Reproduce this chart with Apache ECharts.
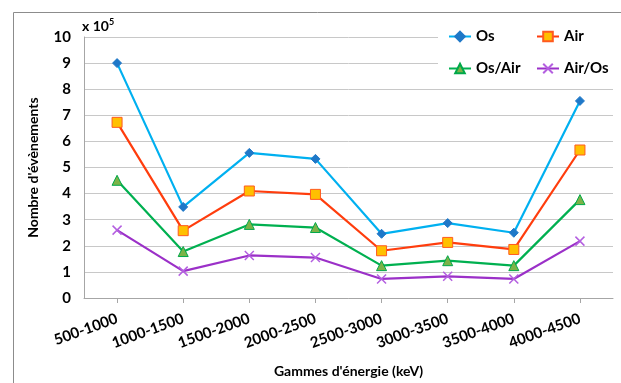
<!DOCTYPE html>
<html>
<head>
<meta charset="utf-8">
<style>
  html, body { margin: 0; padding: 0; background: #fff; }
  #chart { width: 621px; height: 383px; }
</style>
<script src="https://cdn.jsdelivr.net/npm/echarts@6/dist/echarts.min.js"></script>
</head>
<body>
<div id="chart"></div>
<script>
// Energy ranges (keV)
const categories = ['500-1000', '1000-1500', '1500-2000', '2000-2500',
                    '2500-3000', '3000-3500', '3500-4000', '4000-4500'];
// Event counts, in units of 10^5
const osValues    = [9.0, 3.49, 5.56, 5.33, 2.46, 2.87, 2.50, 7.55];
const airValues   = [6.73, 2.58, 4.10, 3.97, 1.81, 2.13, 1.86, 5.67];
const osAirValues = [4.51, 1.78, 2.82, 2.70, 1.24, 1.43, 1.24, 3.77];
const airOsValues = [2.60, 1.03, 1.63, 1.55, 0.73, 0.83, 0.73, 2.18];
const yTicks = [0, 1, 2, 3, 4, 5, 6, 7, 8, 9, 10];

const FONT = 'Lato, "Liberation Sans", sans-serif';
const crossPath = 'path://M0,0L10,10M10,0L0,10';

function lineSeries(name, data, lineColor, symbol, size, fill, border) {
  return {
    name: name,
    type: 'line',
    data: data,
    symbol: symbol,
    symbolSize: size,
    showAllSymbol: true,
    lineStyle: { color: lineColor, width: 2.2 },
    itemStyle: { color: fill, borderColor: border, borderWidth: symbol === crossPath ? 1.5 : 1 },
    emphasis: { disabled: true },
    z: 3
  };
}

const chart = echarts.init(document.getElementById('chart'), null, { renderer: 'canvas' });

const legendText = { fontFamily: FONT, fontWeight: 'bold', fontSize: 15, color: '#000' };

chart.setOption({
  animation: false,
  backgroundColor: '#fff',
  grid: { left: 84, right: 8, top: 37, bottom: 84, containLabel: false },
  xAxis: {
    type: 'category',
    data: categories,
    boundaryGap: true,
    axisLine: { lineStyle: { color: '#a6a6a6', width: 1 } },
    axisTick: { show: true, alignWithLabel: true, length: 5, lineStyle: { color: '#a6a6a6' } },
    axisLabel: {
      rotate: 20, margin: 20, interval: 0,
      fontFamily: FONT, fontWeight: 'bold', fontSize: 15, color: '#000'
    },
    name: "Gammes d'énergie (keV)",
    nameLocation: 'middle',
    nameGap: 66,
    nameTextStyle: { fontFamily: FONT, fontWeight: 'bold', fontSize: 14, color: '#000' }
  },
  yAxis: {
    type: 'value',
    min: yTicks[0],
    max: yTicks[yTicks.length - 1],
    interval: 1,
    axisLine: { show: true, lineStyle: { color: '#a6a6a6', width: 1 } },
    axisTick: { show: false },
    splitLine: { lineStyle: { color: '#c8c8c8', width: 1 } },
    axisLabel: {
      margin: 13,
      fontFamily: FONT, fontWeight: 'bold', fontSize: 15, color: '#000'
    },
    name: "Nombre d'évènements",
    nameLocation: 'middle',
    nameGap: 44,
    nameTextStyle: { fontFamily: FONT, fontWeight: 'bold', fontSize: 14, color: '#000' }
  },
  legend: [
    {
      data: ['Os', 'Os/Air'],
      orient: 'vertical',
      left: 448, top: 29,
      itemWidth: 22, itemHeight: 12, itemGap: 17,
      textStyle: legendText,
      padding: 0
    },
    {
      data: ['Air', 'Air/Os'],
      orient: 'vertical',
      left: 536, top: 29,
      itemWidth: 22, itemHeight: 12, itemGap: 17,
      textStyle: legendText,
      padding: 0
    }
  ],
  graphic: [
    {
      type: 'rect', left: 11, top: 10, z: -1, silent: true,
      shape: { width: 640, height: 400 },
      style: { fill: null, stroke: '#8c8c8c', lineWidth: 1 }
    },
    {
      type: 'rect', left: 438, top: 22, z: 1, silent: true,
      shape: { width: 178, height: 60 },
      style: { fill: '#fff' }
    },
    {
      type: 'text', left: 82, top: 18, z: 5, silent: true,
      style: {
        text: '{a|x 10}{b|5}',
        rich: {
          a: { fontFamily: FONT, fontWeight: 'bold', fontSize: 14, color: '#000' },
          b: { fontFamily: FONT, fontWeight: 'bold', fontSize: 9, color: '#000', padding: [0, 0, 8, 0] }
        }
      }
    }
  ],
  series: [
    lineSeries('Os', osValues, '#00b0f0', 'diamond', 9, '#1f78c8', '#1f78c8'),
    lineSeries('Air', airValues, '#ff3d0d', 'rect', 10, '#ffc000', '#ff5a1f'),
    lineSeries('Os/Air', osAirValues, '#00b050', 'triangle', 10, '#7cb348', '#00a84a'),
    lineSeries('Air/Os', airOsValues, '#9b30c8', crossPath, 9, '#b45fe0', '#b45fe0')
  ]
});
</script>
</body>
</html>
